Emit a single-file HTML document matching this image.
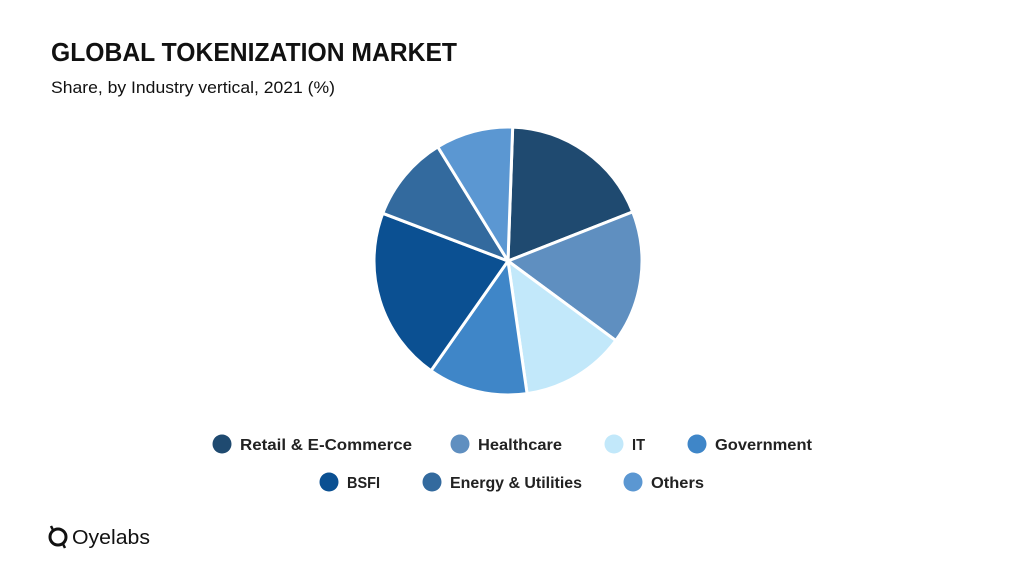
<!DOCTYPE html>
<html><head><meta charset="utf-8"><style>
html,body{margin:0;padding:0;background:#fff;width:1024px;height:576px;overflow:hidden}
svg{display:block;font-family:"Liberation Sans",sans-serif}
</style></head><body>
<svg id="chart" width="1024" height="576" viewBox="0 0 1024 576">
<text x="51" y="61" font-size="26" font-weight="bold" fill="#111" textLength="406" lengthAdjust="spacingAndGlyphs">GLOBAL TOKENIZATION MARKET</text>
<text x="51" y="93" font-size="17" fill="#111" textLength="284" lengthAdjust="spacingAndGlyphs">Share, by Industry vertical, 2021 (%)</text>
<g id="pie"></g>
<g id="legend"></g>
<g>
<circle cx="58" cy="537" r="8" fill="none" stroke="#111" stroke-width="3"/>
<path d="M53 530 L51 526 M63 544 L65 548" stroke="#111" stroke-width="2.5"/>
<text x="72" y="544" font-size="20" fill="#111" textLength="78" lengthAdjust="spacingAndGlyphs">Oyelabs</text>
</g>
</svg>
<script>
const categories = ["Retail & E-Commerce","Healthcare","IT","Government","BSFI","Energy & Utilities","Others"];
const shares = [18.6,16.2,12.7,12.1,21.2,10.5,9.4];
const colors = ["#1f4a70","#5f8fc0","#c2e8fa","#3f86c8","#0b5092","#336a9e","#5b97d2"];
const NS="http://www.w3.org/2000/svg";
const cx=508, cy=261, r=134, startDeg=2;
const total=shares.reduce((a,b)=>a+b,0);
function pt(deg){const a=deg*Math.PI/180;return [cx+r*Math.sin(a), cy-r*Math.cos(a)];}
const pie=document.getElementById('pie');
let a0=startDeg;
shares.forEach((v,i)=>{
  const a1=a0+v/total*360;
  const p0=pt(a0), p1=pt(a1);
  const large=(a1-a0)>180?1:0;
  const path=document.createElementNS(NS,'path');
  path.setAttribute('d',`M${cx},${cy} L${p0[0]},${p0[1]} A${r},${r} 0 ${large} 1 ${p1[0]},${p1[1]} Z`);
  path.setAttribute('fill',colors[i]);
  path.setAttribute('stroke','#fff');
  path.setAttribute('stroke-width','3');
  path.setAttribute('stroke-linejoin','round');
  
  
  pie.appendChild(path);
  a0=a1;
});
const legendPos=[[222,444,172],[460,444,84],[614,444,13],[697,444,97],[329,482,33],[432,482,132],[633,482,53]];
const leg=document.getElementById('legend');
categories.forEach((c,i)=>{
  const [x,y,w]=legendPos[i];
  const g=document.createElementNS(NS,'g');
  
  
  const ci=document.createElementNS(NS,'circle');
  ci.setAttribute('cx',x);ci.setAttribute('cy',y);ci.setAttribute('r',9.5);ci.setAttribute('fill',colors[i]);
  
  
  const t=document.createElementNS(NS,'text');
  t.setAttribute('x',x+18);t.setAttribute('y',y+6);t.setAttribute('font-size','16');
  t.setAttribute('font-weight','bold');t.setAttribute('fill','#222');
  t.setAttribute('textLength',w);t.setAttribute('lengthAdjust','spacingAndGlyphs');
  
  
  t.textContent=c;
  g.appendChild(ci);g.appendChild(t);leg.appendChild(g);
});
</script>
</body></html>
